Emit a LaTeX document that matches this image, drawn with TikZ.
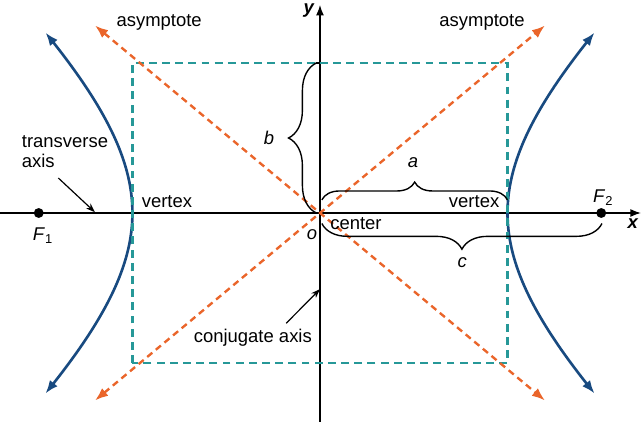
\documentclass[tikz,border=0pt]{standalone}
\usepackage{fontspec}
\setmainfont{Liberation Sans}
\usetikzlibrary{arrows.meta,decorations.pathreplacing}
\definecolor{hypblue}{RGB}{24,74,128}
\definecolor{asymorange}{RGB}{234,101,42}
\definecolor{boxteal}{RGB}{38,152,152}
\begin{document}
\begin{tikzpicture}[x=1cm,y=1cm, every node/.style={font=\fontsize{14}{15.5}\selectfont},
  axis/.style={line width=1.05pt,-{Latex[length=8pt,width=6pt]}},
  branch/.style={line width=2pt,hypblue,{Latex[length=10pt,width=7.5pt]}-{Latex[length=10pt,width=7.5pt]}},
  asym/.style={line width=1.8pt,asymorange,dash pattern=on 5pt off 3.5pt,{Latex[length=10pt,width=7.5pt]}-{Latex[length=10pt,width=7.5pt]}},
  guide/.style={line width=1.8pt,boxteal,dash pattern=on 6pt off 4pt},
  brc/.style={decorate,decoration={brace,amplitude=#1},line width=1.05pt},
  brcm/.style={decorate,decoration={brace,mirror,amplitude=#1},line width=1.05pt},
  pointer/.style={line width=0.9pt,-{Stealth[length=7pt,width=5pt]}},
  focus/.style={circle,fill=black,inner sep=0pt,minimum size=7.5pt}]
\useasboundingbox (-8.533,-5.573) rectangle (8.587,5.68);
% axes
\coordinate (xl) at (-8.6,0);
\coordinate (xr) at (8.56,0);
\coordinate (yb) at (0,-5.6);
\coordinate (yt) at (0,5.55);
\draw[axis] (xl) -- (xr);
\draw[axis] (yb) -- (yt);
\node (xlab) at (8.35,-0.29) {\textbf{\textit{x}}};
\node (ylab) at (-0.29,5.41) {\textbf{\textit{y}}};
\node (olab) at (-0.21,-0.59) {\textit{o}};
% hyperbola branches
\draw[branch] plot[domain=-0.93:0.93,samples=40,smooth] ({-5*cosh(\x)},{4.5*sinh(\x)});
\draw[branch] plot[domain=-0.93:0.93,samples=40,smooth] ({5*cosh(\x)},{4.5*sinh(\x)});
% box and asymptotes
\draw[guide] (-5,-4) rectangle (5,4);
\coordinate (a1) at (-6,5);
\coordinate (a2) at (6,-5);
\coordinate (a3) at (-6,-5);
\coordinate (a4) at (6,5);
\draw[asym] (a1) -- (a2);
\draw[asym] (a3) -- (a4);
\node (asl) at (-4.29,5.09) {asymptote};
\node (asr) at (4.32,5.09) {asymptote};
% foci and vertices
\node[focus] (F1) at (-7.5,0) {};
\node[focus] (F2) at (7.5,0) {};
\node (f1lab) at (-7.39,-0.6) {\textit{F}\textsubscript{1}};
\node (f2lab) at (7.55,0.42) {\textit{F}\textsubscript{2}};
\node (vl) at (-4.08,0.29) {vertex};
\node (vr) at (4.11,0.29) {vertex};
\node (ctr) at (0.96,-0.29) {center};
% braces
\draw[brc=13.5pt] (0.05,0.35) -- (5,0.35);
\draw[brc=21pt] (-0.1,0) -- (-0.1,4);
\draw[line width=1.05pt] (-0.1,4) -- (0,4);
\draw[brcm=19.5pt] (0.05,-0.28) -- (7.52,-0.28);
\node (alab) at (2.48,1.33) {\textit{a}};
\node (blab) at (-1.36,2.0) {\textit{b}};
\node (clab) at (3.79,-1.33) {\textit{c}};
% pointers
\node[align=left] (trans) at (-6.8,1.63) {transverse\\axis};
\coordinate (tp) at (-6,0.02);
\draw[pointer] ([xshift=-5pt,yshift=-4pt]trans.south) -- (tp);
\node (conj) at (-1.79,-3.33) {conjugate axis};
\coordinate (cp) at (0,-2.03);
\draw[pointer] ([xshift=-23pt,yshift=1pt]conj.north east) -- (cp);
\end{tikzpicture}
\end{document}
